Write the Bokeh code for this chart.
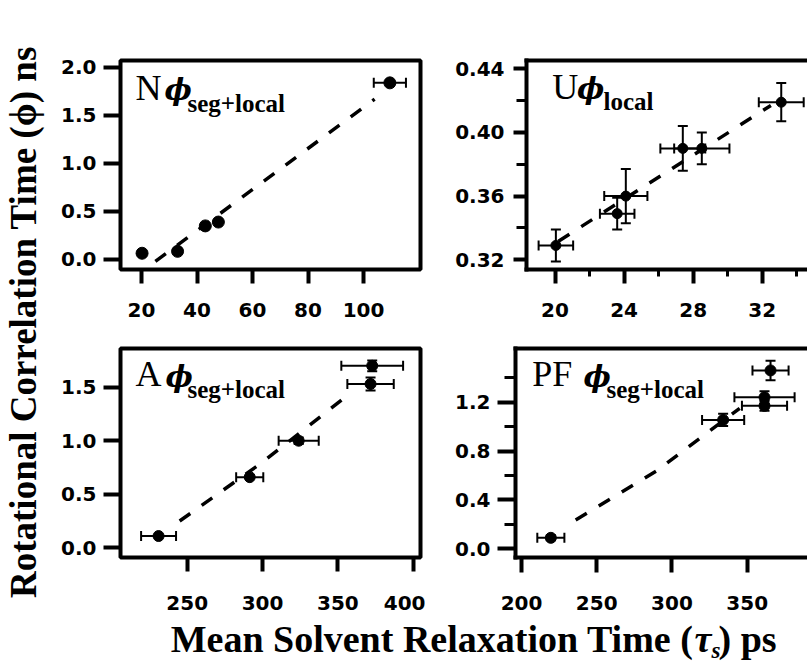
from bokeh.plotting import figure
from bokeh.layouts import row, column
from bokeh.models import (ColumnDataSource, Whisker, TeeHead, Label, FixedTicker,
                          LinearAxis, Range1d)
from bokeh.embed import file_html
from bokeh.resources import INLINE

# ---------------- data ----------------
# Panel N  (phi_seg+local)
n_tau = [20.2, 33.0, 43.0, 47.7, 109.5]
n_phi = [0.065, 0.085, 0.35, 0.39, 1.84]
n_tau_err = [0, 0, 0, 0, 5.8]
n_phi_err = [0, 0, 0, 0, 0]
n_fit_tau = [25.0, 104.0]
n_fit_phi = [-0.02, 1.67]

# Panel U  (phi_local)
u_tau = [20.05, 23.6, 24.1, 27.4, 28.5, 33.1]
u_phi = [0.329, 0.349, 0.360, 0.390, 0.390, 0.419]
u_tau_err = [1.0, 1.0, 1.25, 1.3, 1.6, 1.3]
u_phi_err = [0.010, 0.010, 0.017, 0.014, 0.010, 0.012]
u_fit_tau = [20.2, 32.5]
u_fit_phi = [0.3317, 0.417]

# Panel A  (phi_seg+local)
a_tau = [231.0, 291.5, 324.0, 372.8, 371.7]
a_phi = [0.11, 0.66, 1.00, 1.70, 1.53]
a_tau_err = [11.6, 9.0, 13.3, 20.5, 15.4]
a_phi_err = [0, 0, 0.03, 0.05, 0.06]
a_fit_tau = [245.0, 300.0, 357.0]
a_fit_phi = [0.25, 0.80, 1.43]

# Panel PF (phi_seg+local)
pf_tau = [219.5, 334.0, 365.5, 361.5, 361.5]
pf_phi = [0.09, 1.055, 1.46, 1.24, 1.17]
pf_tau_err = [9.0, 14.0, 12.0, 20.0, 15.0]
pf_phi_err = [0.02, 0.05, 0.08, 0.05, 0.04]
pf_fit_tau = [236.0, 290.0, 345.0]
pf_fit_phi = [0.235, 0.64, 1.15]

# tick values and labels
n_xticks = [20, 40, 60, 80, 100]
n_xlabels = ["20", "40", "60", "80", "100"]
n_yticks = [0.0, 0.5, 1.0, 1.5, 2.0]
n_ylabels = ["0.0", "0.5", "1.0", "1.5", "2.0"]

u_xticks = [20, 24, 28, 32]
u_xlabels = ["20", "24", "28", "32"]
u_xminor = [22, 26, 30, 34]
u_yticks = [0.32, 0.36, 0.40, 0.44]
u_ylabels = ["0.32", "0.36", "0.40", "0.44"]
u_yminor = [0.34, 0.38, 0.42]

a_xticks = [250, 300, 350, 400]
a_xlabels = ["250", "300", "350", "400"]
a_yticks = [0.0, 0.5, 1.0, 1.5]
a_ylabels = ["0.0", "0.5", "1.0", "1.5"]

pf_xticks = [200, 250, 300, 350]
pf_xlabels = ["200", "250", "300", "350"]
pf_yticks = [0.0, 0.4, 0.8, 1.2]
pf_ylabels = ["0.0", "0.4", "0.8", "1.2"]
pf_yminor = [0.2, 0.6, 1.0, 1.4]

x_title = "Mean Solvent Relaxation Time ("
y_title = "Rotational Correlation Time (\u03d5) ns"
PHI = "\u03d5"

# ---------------- style / layout ----------------
TICK_FONT = "DejaVu Sans"
TICK_SIZE = "20px"
SERIF = "Liberation Serif"
PAGE_X0, PAGE_Y0 = 0, 0
BASE_SHIFT = 0.36   # empirical correction for alphabetic baseline placement


def make_panel(width, height, page_left, page_top, bl, br, bt, bb, xr, yr, right_open):
    p = figure(width=width, height=height, x_range=Range1d(*xr), y_range=Range1d(*yr),
               output_backend="svg", toolbar_location=None,
               min_border_left=bl, min_border_right=br,
               min_border_top=bt, min_border_bottom=bb)
    p.xgrid.visible = False
    p.ygrid.visible = False
    p.background_fill_color = "white"
    p.border_fill_color = "white"
    xax = p.below[0]
    yax = p.left[0]
    if right_open:
        p.outline_line_color = None
        for ax in (xax, yax):
            ax.axis_line_width = 4
            ax.axis_line_color = "black"
            ax.axis_line_cap = "square"
        top = LinearAxis(ticker=FixedTicker(ticks=[]), axis_line_width=4,
                         axis_line_color="black", axis_line_cap="square",
                         major_tick_out=0, minor_tick_out=0,
                         major_label_text_color=None)
        p.add_layout(top, "above")
    else:
        p.outline_line_color = "black"
        p.outline_line_width = 4
        xax.axis_line_color = None
        yax.axis_line_color = None
    geom = dict(fl=page_left + bl, ft=page_top + bt,
                fw=width - bl - br, fh=height - bt - bb, xr=xr, yr=yr)
    return p, xax, yax, geom


def style_axis(ax, ticks, labels, minor, tick_out, minor_out, standoff):
    ax.ticker = FixedTicker(ticks=ticks, minor_ticks=minor)
    ax.major_label_overrides = {t: l for t, l in zip(ticks, labels)}
    ax.major_tick_in = 0
    ax.major_tick_out = tick_out
    ax.major_tick_line_width = 4
    ax.major_tick_line_color = "black"
    ax.minor_tick_in = 0
    ax.minor_tick_out = minor_out
    ax.minor_tick_line_width = 3
    ax.minor_tick_line_color = "black"
    ax.major_label_text_font = TICK_FONT
    ax.major_label_text_font_style = "bold"
    ax.major_label_text_font_size = TICK_SIZE
    ax.major_label_text_color = "black"
    ax.major_label_standoff = standoff


def to_data(g, page_x, page_y):
    x0, x1 = g["xr"]
    y0, y1 = g["yr"]
    x = x0 + (page_x - g["fl"]) * (x1 - x0) / g["fw"]
    y = y1 - (page_y - g["ft"]) * (y1 - y0) / g["fh"]
    return x, y


def add_label(p, g, page_x, page_y, text, font, size, style="normal", align="left",
              baseline="alphabetic", angle=0):
    if baseline == "alphabetic":
        page_y = page_y - BASE_SHIFT * size
    x, y = to_data(g, page_x, page_y)
    p.add_layout(Label(x=x, y=y, text=text, text_font=font, text_font_size=f"{size}px",
                       text_font_style=style, text_align=align, text_baseline=baseline,
                       text_color="black", angle=angle, angle_units="deg"))


def add_points(p, xs, ys, xerr, yerr, fx, fy, size, cap):
    p.line(fx, fy, line_color="black", line_width=3.5, line_dash="13 14")
    ix = [i for i in range(len(xs)) if xerr[i] > 0]
    if ix:
        src = ColumnDataSource(dict(base=[ys[i] for i in ix],
                                    lower=[xs[i] - xerr[i] for i in ix],
                                    upper=[xs[i] + xerr[i] for i in ix]))
        p.add_layout(Whisker(source=src, base="base", lower="lower", upper="upper",
                             dimension="width", line_width=2, line_color="black",
                             upper_head=TeeHead(size=cap, line_width=2, line_color="black"),
                             lower_head=TeeHead(size=cap, line_width=2, line_color="black")))
    iy = [i for i in range(len(xs)) if yerr[i] > 0]
    if iy:
        src = ColumnDataSource(dict(base=[xs[i] for i in iy],
                                    lower=[ys[i] - yerr[i] for i in iy],
                                    upper=[ys[i] + yerr[i] for i in iy]))
        p.add_layout(Whisker(source=src, base="base", lower="lower", upper="upper",
                             dimension="height", line_width=2, line_color="black",
                             upper_head=TeeHead(size=cap, line_width=2, line_color="black"),
                             lower_head=TeeHead(size=cap, line_width=2, line_color="black")))
    p.scatter(xs, ys, size=size, color="black")


def panel_title(p, g, main, main_xy, phi_x, sub, sub_xy):
    add_label(p, g, main_xy[0], main_xy[1], main, SERIF, 36)
    add_label(p, g, phi_x, main_xy[1], PHI, "DejaVu Serif", 29, style="bold italic")
    add_label(p, g, sub_xy[0], sub_xy[1], sub, SERIF, 25, style="bold")


YW = 48
LW, RW = 377, 382
H1, H2, HX = 327, 292, 43
LEFT_X = PAGE_X0 + YW
RIGHT_X = LEFT_X + LW
ROW1_Y = PAGE_Y0
ROW2_Y = ROW1_Y + H1

# Panel N
p1, x1, y1, g1 = make_panel(LW, H1, LEFT_X, ROW1_Y, 72, 5, 60, 58, (12.432, 120.54), (-0.1042, 2.0729), False)
style_axis(x1, n_xticks, n_xlabels, [], 14, 0, 19)
style_axis(y1, n_yticks, n_ylabels, [], 17, 0, 7)
add_points(p1, n_tau, n_phi, n_tau_err, n_phi_err, n_fit_tau, n_fit_phi, 12, 10)
panel_title(p1, g1, "N", (135, 100), 164, "seg+local", (187, 111.5))

# Panel U
p2, x2, y2, g2 = make_panel(RW, H1, RIGHT_X, ROW1_Y, 101, 0, 60, 58, (18.349, 34.62), (0.3139, 0.44521), True)
style_axis(x2, u_xticks, u_xlabels, u_xminor, 14, 7, 19)
style_axis(y2, u_yticks, u_ylabels, u_yminor, 13, 10, 9)
add_points(p2, u_tau, u_phi, u_tau_err, u_phi_err, u_fit_tau, u_fit_phi, 10, 10)
panel_title(p2, g2, "U", (551.7, 99.3), 576.5, "local", (603, 110))

# Panel A
p3, x3, y3, g3 = make_panel(LW, H2, LEFT_X, ROW2_Y, 72, 5, 21, 62, (205.73, 404.85), (-0.0906, 1.8614), False)
style_axis(x3, a_xticks, a_xlabels, [], 14, 0, 24)
style_axis(y3, a_yticks, a_ylabels, [], 17, 0, 7)
add_points(p3, a_tau, a_phi, a_tau_err, a_phi_err, a_fit_tau, a_fit_phi, 11, 10)
panel_title(p3, g3, "A", (135, 386.7), 165, "seg+local", (187, 398.3))

# Panel PF
p4, x4, y4, g4 = make_panel(RW, H2, RIGHT_X, ROW2_Y, 90, 0, 21, 62, (196.01, 390.07), (-0.0711, 1.6396), True)
style_axis(x4, pf_xticks, pf_xlabels, [], 15, 0, 23)
style_axis(y4, pf_yticks, pf_ylabels, pf_yminor, 18, 11, 7)
add_points(p4, pf_tau, pf_phi, pf_tau_err, pf_phi_err, pf_fit_tau, pf_fit_phi, 11, 10)
panel_title(p4, g4, "PF", (531.7, 386.7), 583, "seg+local", (606, 398.3))


def blank(width, height):
    f = figure(width=width, height=height, x_range=Range1d(0, width), y_range=Range1d(0, height),
               x_axis_type=None, y_axis_type=None, output_backend="svg", toolbar_location=None,
               min_border=0, outline_line_color=None)
    f.xgrid.visible = False
    f.ygrid.visible = False
    f.background_fill_color = "white"
    f.border_fill_color = "white"
    return f


# Y title
YH = H1 + H2 + HX
yfig = blank(YW, YH)
gy = dict(fl=PAGE_X0, ft=PAGE_Y0, fw=YW, fh=YH, xr=(0, YW), yr=(0, YH))
add_label(yfig, gy, 22.6, 321.5, y_title, SERIF, 37, style="bold", align="center",
          baseline="middle", angle=90)

# X title
XW = LW + RW
xfig = blank(XW, HX)
XTOP = ROW2_Y + H2
gx = dict(fl=LEFT_X, ft=XTOP, fw=XW, fh=HX, xr=(0, XW), yr=(0, HX))
add_label(xfig, gx, 693, 652, x_title, SERIF, 38, style="bold", align="right")
add_label(xfig, gx, 694, 652, "\u03c4", SERIF, 38, style="bold italic")
add_label(xfig, gx, 711, 658, "s", SERIF, 23, style="bold italic")
add_label(xfig, gx, 718, 652, ") ps", SERIF, 38, style="bold")

layout = row(yfig, column(row(p1, p2), row(p3, p4), xfig))

open("out.html", "w").write(file_html(layout, INLINE))
